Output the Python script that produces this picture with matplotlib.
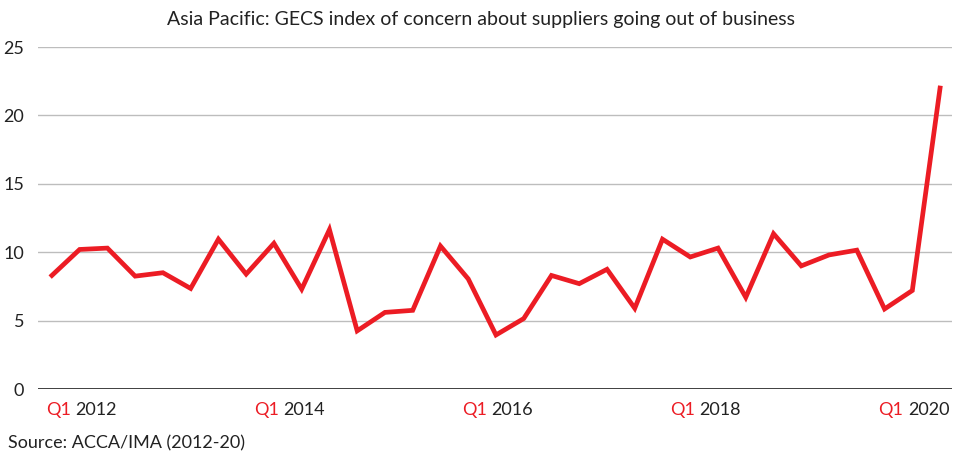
import numpy as np
import matplotlib
matplotlib.use("Agg")
import matplotlib.pyplot as plt
from matplotlib import transforms

plt.rcParams['font.family'] = ['Lato', 'DejaVu Sans']

# quarterly index values, Q1 2012 .. Q1 2020
concern = [8.3, 10.2, 10.3, 8.25, 8.5, 7.35, 10.95, 8.4, 10.65, 7.3,
           11.65, 4.25, 5.6, 5.75, 10.45, 8.05, 3.95, 5.15, 8.3, 7.7,
           8.75, 5.9, 10.95, 9.65, 10.3, 6.7, 11.35, 9.0, 9.8, 10.15,
           5.85, 7.2, 22.0]
label_years = ["2012", "2014", "2016", "2018", "2020"]
label_pos = [0.76, 8.26, 15.76, 23.26, 30.76]
y_ticks = [0, 5, 10, 15, 20, 25]

RED = "#ec1c24"

fig = plt.figure(figsize=(9.62, 4.53), dpi=100)
ax = fig.add_axes([38 / 962, 64 / 453, 914 / 962, 342 / 453])

x = np.arange(len(concern))
ax.plot(x, concern, color=RED, lw=3.4, solid_joinstyle='miter', zorder=3)

ax.set_xlim(-0.5, 32.43)
ax.set_ylim(0, 25)
ax.set_yticks(y_ticks)
ax.set_xticks([])
ax.grid(axis='y', color='#bdbdbd', lw=1.0)
ax.axhline(0, color='#222222', lw=1.2, zorder=4)
for s in ax.spines.values():
    s.set_visible(False)
ax.tick_params(axis='y', length=0, pad=10, labelsize=13, labelcolor='#222222')
ax.set_axisbelow(True)

trans = transforms.blended_transform_factory(ax.transData, ax.transAxes)
for pos, yr in zip(label_pos, label_years):
    ax.text(pos - 0.08, -0.062, "Q1", transform=trans, ha='right', va='center',
            color=RED, fontsize=13)
    ax.text(pos + 0.08, -0.062, yr, transform=trans, ha='left', va='center',
            color='#222222', fontsize=13)

fig.text(0.5, 1 - 20 / 453,
         "Asia Pacific: GECS index of concern about suppliers going out of business",
         ha='center', va='center', fontsize=14, color='#222222')
fig.text(8 / 962, 1 - 443 / 453, "Source: ACCA/IMA (2012-20)",
         ha='left', va='center', fontsize=13, color='#222222')

fig.savefig("out.png", dpi=100)
